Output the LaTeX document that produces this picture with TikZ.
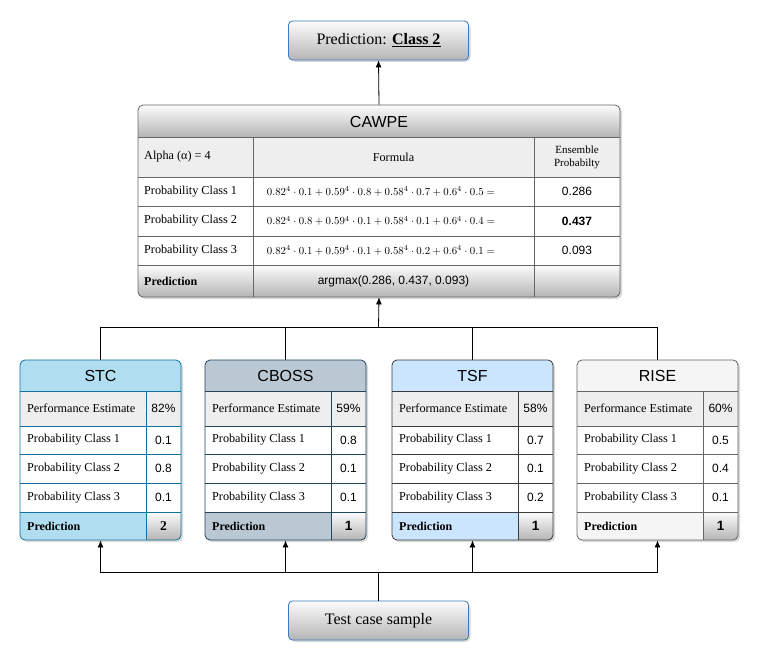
\documentclass[tikz,border=0pt]{standalone}
\usepackage[no-math]{fontspec}
\setmainfont{Liberation Serif}
\setsansfont{Liberation Sans}
\usetikzlibrary{arrows.meta}
\definecolor{stcfill}{HTML}{B1DDF0}
\definecolor{stcline}{HTML}{10739E}
\definecolor{cbossfill}{HTML}{BAC8D3}
\definecolor{cbossline}{HTML}{23445D}
\definecolor{tsffill}{HTML}{CCE5FF}
\definecolor{tsfline}{HTML}{36393D}
\definecolor{risefill}{HTML}{F5F5F5}
\definecolor{riseline}{HTML}{666666}
\definecolor{rowgray}{HTML}{EEEEEE}
\definecolor{gradtop}{HTML}{FCFCFC}
\definecolor{gradbot}{HTML}{B5B5B5}
\definecolor{boxblue}{HTML}{3D7ABF}
\definecolor{cawline}{HTML}{666666}
\tikzset{
  celltxt/.style={font=\fontsize{12.2}{14}\selectfont, inner sep=0pt, anchor=west},
  valtxt/.style={font=\sffamily\fontsize{12}{14}\selectfont, inner sep=0pt},
  titletxt/.style={font=\sffamily\fontsize{16}{18}\selectfont, inner sep=0pt},
  formtxt/.style={inner sep=0pt, scale=1.08},
  grad/.style={top color=gradtop, bottom color=gradbot},
  shadowbox/.style={fill=black, opacity=0.15, rounded corners=5pt},
  conn/.style={draw=black, line width=0.8pt},
  arr/.style={conn, -{Latex[length=7pt,width=6pt]}},
  endbox/.style={draw=boxblue, line width=0.8pt, rounded corners=4pt, grad,
    minimum width=180pt, minimum height=39pt, inner sep=0pt,
    font=\fontsize{16}{18}\selectfont},
}
\newcommand\clf[8]{%
  \pgfmathsetmacro\xl{#2}%
  \pgfmathsetmacro\xr{#2+161}%
  \pgfmathsetmacro\xd{#2+126}%
  \pgfmathsetmacro\xc{#2+143.5}%
  \pgfmathsetmacro\xm{#2+80.5}%
  \fill[shadowbox] (\xl+2,362) rectangle (\xr+2,542);
  \begin{scope}
    \clip[rounded corners=5pt] (\xl,360) rectangle (\xr,540);
    \fill[white] (\xl,360) rectangle (\xr,540);
    \fill[#1fill] (\xl,360) rectangle (\xr,391);
    \fill[rowgray] (\xl,391) rectangle (\xr,426);
    \fill[#1fill] (\xl,512) rectangle (\xd,540);
    \shade[grad] (\xd,512) rectangle (\xr,540);
  \end{scope}
  \draw[#1line, line width=0.8pt] (\xl,391) -- (\xr,391)
    (\xl,426) -- (\xr,426) (\xl,454) -- (\xr,454)
    (\xl,483) -- (\xr,483) (\xl,512) -- (\xr,512)
    (\xd,391) -- (\xd,540);
  \node[draw=#1line, line width=0.8pt, rounded corners=5pt, minimum width=161pt,
    minimum height=180pt, inner sep=0pt] (#1) at (\xm,450) {};
  \node[titletxt] (#1-title) at (\xm,376) {#3};
  \node[celltxt] (#1-perf) at (\xl+7,408.5) {Performance Estimate};
  \node[valtxt] (#1-perfv) at (\xc,408.5) {#4};
  \node[celltxt] (#1-c1) at (\xl+7,440) {Probability Class 1};
  \node[valtxt] (#1-c1v) at (\xc,440) {#5};
  \node[celltxt] (#1-c2) at (\xl+7,468.5) {Probability Class 2};
  \node[valtxt] (#1-c2v) at (\xc,468.5) {#6};
  \node[celltxt] (#1-c3) at (\xl+7,497.5) {Probability Class 3};
  \node[valtxt] (#1-c3v) at (\xc,497.5) {#7};
  \node[celltxt, font=\bfseries\fontsize{12}{14}\selectfont] (#1-pr) at (\xl+7,526) {Prediction};
  \node[valtxt, font=\bfseries\sffamily\fontsize{13.5}{15}\selectfont] (#1-prv) at (\xc,526) {#8};
}
\begin{document}
\begin{tikzpicture}[x=1pt,y=-1pt]
\useasboundingbox (0,0) rectangle (760,661);
\fill[white] (0,0) rectangle (760,661);

% top prediction box
\fill[shadowbox] (290.5,23) rectangle (470.5,62);
\node[endbox] (pred) at (378.5,40.5) {Prediction: \textbf{\underline{Class 2}}};

% CAWPE table
\fill[shadowbox] (140,107) rectangle (622,299);
\begin{scope}
  \clip[rounded corners=5pt] (138,105) rectangle (620,297);
  \fill[white] (138,105) rectangle (620,297);
  \shade[grad] (138,105) rectangle (620,137);
  \fill[rowgray] (138,137) rectangle (620,177);
  \shade[grad] (138,265) rectangle (620,297);
\end{scope}
\draw[cawline, line width=0.8pt] (138,137) -- (620,137)
  (138,177) -- (620,177) (138,206) -- (620,206)
  (138,236) -- (620,236) (138,265) -- (620,265)
  (253,137) -- (253,297) (534,137) -- (534,297);
\node[draw=cawline, line width=0.8pt, rounded corners=5pt, minimum width=482pt,
  minimum height=192pt, inner sep=0pt] (cawpe) at (379,201) {};
\node[titletxt] (caw-title) at (379,122) {CAWPE};
\node[celltxt] (caw-alpha) at (144,157) {Alpha (α) = 4};
\node[celltxt, anchor=center] (caw-formula) at (393.5,157) {Formula};
\node[celltxt, anchor=center, align=center, font=\fontsize{11}{13}\selectfont] (caw-ens) at (577,157) {Ensemble\\Probabilty};
\node[celltxt] (caw-c1) at (144,191.5) {Probability Class 1};
\node[celltxt] (caw-c2) at (144,221) {Probability Class 2};
\node[celltxt] (caw-c3) at (144,250.5) {Probability Class 3};
\node[formtxt] (caw-f1) at (381,191.5)
  {$0.82^4\cdot 0.1 + 0.59^4\cdot 0.8 + 0.58^4\cdot 0.7 + 0.6^4\cdot 0.5 =$};
\node[formtxt] (caw-f2) at (381,221)
  {$0.82^4\cdot 0.8 + 0.59^4\cdot 0.1 + 0.58^4\cdot 0.1 + 0.6^4\cdot 0.4 =$};
\node[formtxt] (caw-f3) at (381,250.5)
  {$0.82^4\cdot 0.1 + 0.59^4\cdot 0.1 + 0.58^4\cdot 0.2 + 0.6^4\cdot 0.1 =$};
\node[valtxt] (caw-v1) at (577,191.5) {0.286};
\node[valtxt, font=\bfseries\sffamily\fontsize{12}{14}\selectfont] (caw-v2) at (577,221) {0.437};
\node[valtxt] (caw-v3) at (577,250.5) {0.093};
\node[celltxt, font=\bfseries\fontsize{12}{14}\selectfont] (caw-pr) at (144,281) {Prediction};
\node[valtxt] (caw-prv) at (393.5,281) {argmax(0.286, 0.437, 0.093)};

% classifiers
\clf{stc}{20}{STC}{82\%}{0.1}{0.8}{0.1}{\rmfamily 2}
\clf{cboss}{205}{CBOSS}{59\%}{0.8}{0.1}{0.1}{1}
\clf{tsf}{392}{TSF}{58\%}{0.7}{0.1}{0.2}{1}
\clf{rise}{577}{RISE}{60\%}{0.5}{0.4}{0.1}{1}

% bottom test box
\fill[shadowbox] (290.5,603) rectangle (470.5,642);
\node[endbox] (test) at (378.5,620.5) {Test case sample};

% connectors
\coordinate (jtop) at (378.5,327);
\coordinate (jbot) at (378.5,572);
\draw[conn] (stc.north) |- (jtop);
\draw[conn] (cboss.north) |- (jtop);
\draw[conn] (tsf.north) |- (jtop);
\draw[conn] (rise.north) |- (jtop);
\draw[arr] (jtop) -- (cawpe.south);
\draw[arr] (cawpe.north) -- (pred.south);
\draw[conn] (test.north) -- (jbot);
\draw[arr] (jbot) -| (stc.south);
\draw[arr] (jbot) -| (cboss.south);
\draw[arr] (jbot) -| (tsf.south);
\draw[arr] (jbot) -| (rise.south);
\end{tikzpicture}
\end{document}
